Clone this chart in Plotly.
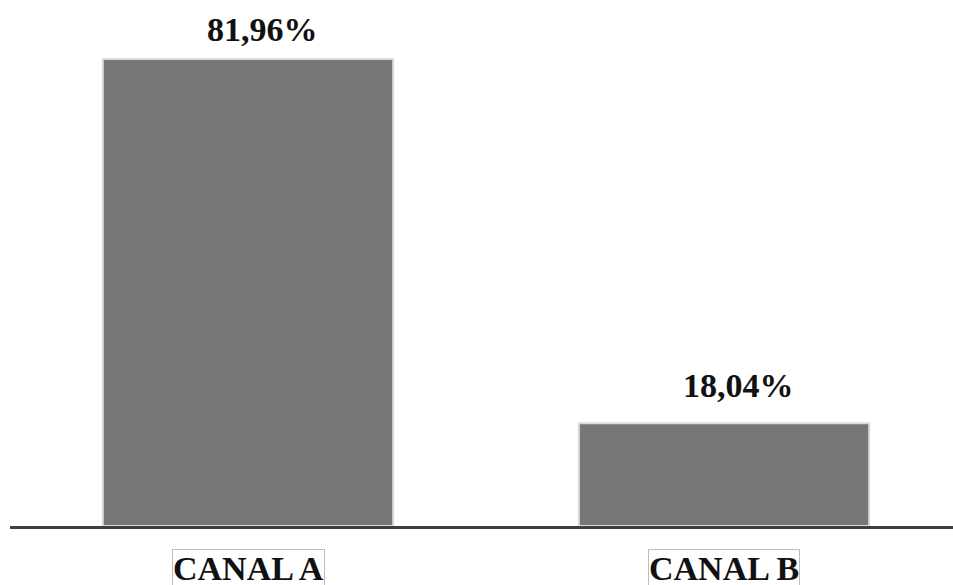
import plotly.graph_objects as go

# Share of contacts by channel (%)
categories = ["CANAL A", "CANAL B"]
shares = [81.96, 18.04]

BAR_COLOR = "#777777"
EDGE_COLOR = "#dcdcdc"
AXIS_COLOR = "#404040"
FONT = "Liberation Serif, Times New Roman, serif"

fig = go.Figure(
    go.Bar(
        x=categories,
        y=shares,
        width=0.61,
        marker=dict(color=BAR_COLOR, line=dict(color=EDGE_COLOR, width=2)),
        hoverinfo="skip",
    )
)

# value labels above each bar
label_lift = [9, 17]
for cat, val, lift in zip(categories, shares, label_lift):
    fig.add_annotation(
        x=cat, y=val, xref="x", yref="y",
        text="<b>" + f"{val:.2f}".replace(".", ",") + "%</b>",
        showarrow=False, yanchor="bottom", yshift=lift, xshift=14,
        font=dict(family=FONT, size=34, color="#111111"),
    )

# boxed category labels under the baseline
for cat in categories:
    fig.add_annotation(
        x=cat, y=0, xref="x", yref="paper",
        text=f"<b>{cat}</b>",
        showarrow=False, yanchor="top", yshift=-23,
        font=dict(family=FONT, size=34, color="#111111"),
        bordercolor="#bdbdbd", borderwidth=1, borderpad=0,
        bgcolor="white",
    )

fig.update_layout(
    width=953, height=585,
    margin=dict(l=10, r=0, t=0, b=59),
    paper_bgcolor="white", plot_bgcolor="white",
    showlegend=False,
    xaxis=dict(
        range=[-0.5, 1.481],
        showticklabels=False, ticks="",
        showgrid=False, zeroline=False,
        showline=True, linecolor=AXIS_COLOR, linewidth=3,
    ),
    yaxis=dict(
        range=[0, 92.3], visible=False,
    ),
)

fig.write_html("out.html")
